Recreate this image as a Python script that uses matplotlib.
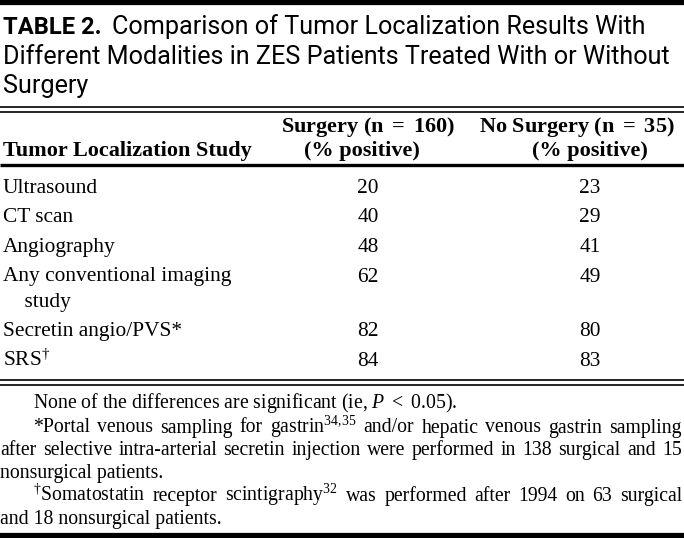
import matplotlib
matplotlib.use("Agg")
import matplotlib.pyplot as plt

# table content
studies = ["Ultrasound", "CT scan", "Angiography",
           "Any conventional imaging\n    study", "Secretin angio/PVS*", "SRS$^{†}$"]
surgery = [20, 40, 48, 62, 82, 84]
no_surgery = [23, 29, 41, 49, 80, 83]
col_headers = [["Surgery (n $=$ 160)", "(% positive)"],
               ["No Surgery (n $=$ 35)", "(% positive)"]]
row_header = "Tumor Localization Study"
title_bold = "TABLE 2."
title_lines = ["Comparison of Tumor Localization Results With",
               "Different Modalities in ZES Patients Treated With or Without",
               "Surgery"]
notes = [
    ("None of the differences are significant (ie, $P$ $<$ 0.05).", 33, False),
    ("*Portal venous sampling for gastrin$^{34{,}35}$ and/or hepatic venous gastrin sampling", 33, True),
    ("after selective intra-arterial secretin injection were performed in 138 surgical and 15", 0, True),
    ("nonsurgical patients.", 0, False),
    ("$^{†}$Somatostatin receptor scintigraphy$^{32}$ was performed after 1994 on 63 surgical", 33, True),
    ("and 18 nonsurgical patients.", 0, False),
]

plt.rcParams['mathtext.fontset'] = 'custom'
plt.rcParams['mathtext.rm'] = 'Liberation Serif'
plt.rcParams['mathtext.it'] = 'Liberation Serif:italic'
plt.rcParams['mathtext.bf'] = 'Liberation Serif:bold'

W, H = 684, 538
fig = plt.figure(figsize=(W / 100, H / 100), dpi=100)
ax = fig.add_axes([0, 0, 1, 1])
ax.set_xlim(0, W)
ax.set_ylim(H, 0)
ax.axis('off')
renderer = fig.canvas.get_renderer()

serif = 'Liberation Serif'
sans = ['Roboto', 'Open Sans']
title_fs = 18.1
body_fs = 15.4
head_fs = 16
note_fs = 14.2


def width(t):
    return t.get_window_extent(renderer).width


def hline(y, lw):
    ax.plot([0, W], [y, y], color='black', lw=lw, solid_capstyle='butt')


# rules
hline(2, 4.5)
hline(107, 1.2)
hline(111.5, 1.2)
hline(165, 2.4)
hline(380, 1.2)
hline(384.5, 1.2)
hline(535.5, 4.5)

# title
tb = ax.text(3, 34, title_bold, family=sans, fontsize=title_fs - 1, weight='bold')
x_after = 3 + width(tb) + 10
ax.text(x_after, 34, title_lines[0], family=sans, fontsize=title_fs)
ax.text(3, 64, title_lines[1], family=sans, fontsize=title_fs)
ax.text(3, 93, title_lines[2], family=sans, fontsize=title_fs)

# headers
ax.text(3, 156, row_header, family=serif, fontsize=head_fs, weight='bold')
head_x = [[368, 362], [577, 590]]
for xs, hdr in zip(head_x, col_headers):
    for k, line in enumerate(hdr):
        if '$' in line:
            line = line.replace('$=$', r'$\mathbf{=}$')
        ax.text(xs[k], 132 + 24 * k, line, family=serif, fontsize=head_fs,
                weight='bold', ha='center')

# body rows
col_x = [368, 590]
y = 193
for name, s, ns in zip(studies, surgery, no_surgery):
    parts = name.split("\n")
    for k, line in enumerate(parts):
        ax.text(3, y + 25 * k, line, family=serif, fontsize=body_fs)
    ax.text(col_x[0], y, str(s), family=serif, fontsize=body_fs, ha='center')
    ax.text(col_x[1], y, str(ns), family=serif, fontsize=body_fs, ha='center')
    y += 29.5 + 25 * (len(parts) - 1)

# footnotes
note_y = [408, 432.5, 455, 478, 501, 524]
for (line, indent, justify), ny in zip(notes, note_y):
    if not justify:
        ax.text(indent, ny, line, family=serif, fontsize=note_fs)
        continue
    words = line.split(" ")
    objs = [ax.text(0, ny, w, family=serif, fontsize=note_fs) for w in words]
    widths = [width(o) for o in objs]
    gap = (W - 2 - indent - sum(widths)) / (len(words) - 1)
    x = indent
    for o, w in zip(objs, widths):
        o.set_x(x)
        x += w + gap

fig.savefig("out.png", dpi=100)
